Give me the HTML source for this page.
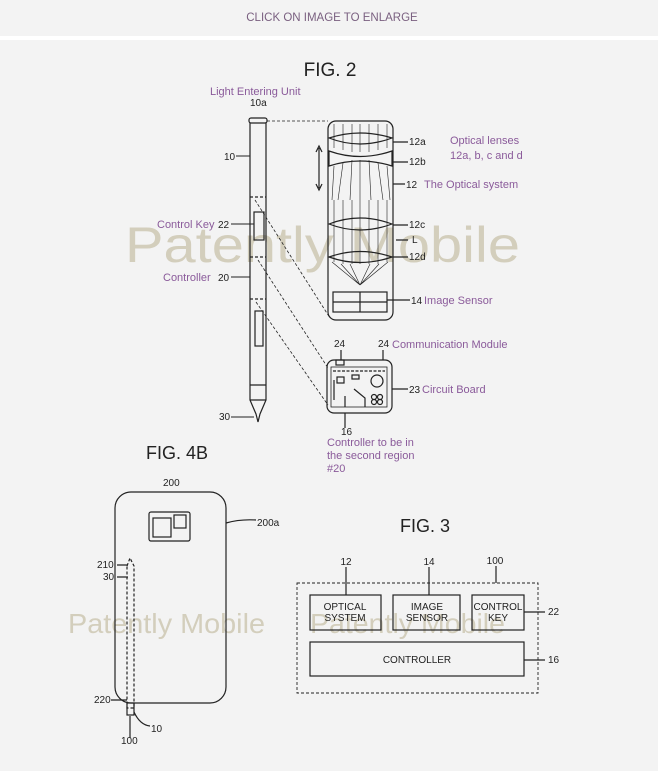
<!DOCTYPE html>
<html><head><meta charset="utf-8"><style>
html,body{margin:0;padding:0;background:#f3f3f3;}
svg{display:block}
text{font-family:"Liberation Sans",sans-serif;}
.p{fill:#8a5a9a;font-size:11px}
.b{fill:#222;font-size:10px}
.wm{fill:#b8ae8e;fill-opacity:.55}
</style></head><body>
<svg width="658" height="771" viewBox="0 0 658 771" xmlns="http://www.w3.org/2000/svg">
<rect width="658" height="771" fill="#f3f3f3"/>
<rect x="0" y="36" width="658" height="4" fill="#fff"/>
<text x="332" y="21" text-anchor="middle" font-size="11.5" fill="#7a6080">CLICK ON IMAGE TO ENLARGE</text>

<!-- watermarks -->
<text x="125" y="262" font-size="50" class="wm" textLength="395" lengthAdjust="spacingAndGlyphs">Patently Mobile</text>
<text x="68" y="633" font-size="28" class="wm" textLength="197" lengthAdjust="spacingAndGlyphs">Patently Mobile</text>
<text x="310" y="633" font-size="28" class="wm" textLength="195" lengthAdjust="spacingAndGlyphs">Patently Mobile</text>

<g stroke="#222" fill="none" stroke-width="1.2">
<!-- FIG 2 pen -->
<rect x="249" y="118" width="18" height="5" rx="2"/>
<path d="M250 123 V400 L256 414 L258 422 L260 414 L266 400 V123"/>
<path d="M250 385 H266 M250 400 H266"/>
<path d="M250 197 H266 M250 257 H266 M250 299 H266" stroke-dasharray="3 2"/>
<rect x="254" y="212" width="10" height="28"/>
<rect x="255" y="311" width="8" height="35"/>
<!-- dashed connectors -->
<g stroke-width="0.8" stroke-dasharray="3 2">
<path d="M267 121 H328"/>
<path d="M255 200 L330 318"/>
<path d="M258 260 L328 368"/>
<path d="M256 302 L328 405"/>
</g>
<!-- optical box -->
<rect x="328" y="121" width="65" height="199" rx="8"/>
<path d="M329 138 Q360 128 392 138 Q360 150 329 138Z"/>
<path d="M329 151 Q360 162 392 151 L392 166 Q360 156 329 166Z"/>
<path d="M329 224 Q360 212 392 224 Q360 236 329 224Z"/>
<path d="M329 257 Q360 246 392 257 Q360 268 329 257Z"/>
<g stroke-width="0.6">
<path d="M334 124V148M343 124V150M352 124V152M360 124V152M369 124V152M378 124V150M387 124V148"/>
<path d="M334 166L332 200M343 163L338 200M352 160L350 200M360 160V200M369 160L371 200M378 163L383 200M387 166L390 200"/>
<path d="M334 200V262M343 200V264M352 200V264M360 200V264M369 200V264M378 200V264M387 200V262"/>
<path d="M332 262L360 285M341 264L360 285M350 264L360 285M370 264L360 285M379 264L360 285M388 262L360 285"/>
</g>
<rect x="333" y="292" width="54" height="20"/>
<path d="M360 292V312M333 302H387"/>
<path d="M319 148V188M316 152L319 146L322 152M316 184L319 190L322 184"/>
<path d="M393 142H408M393 162H408M393 184H405M393 225H408M396 240H408M393 257H408M387 300H410"/>
<!-- circuit board -->
<rect x="327" y="360" width="65" height="53" rx="7"/>
<rect x="336" y="360" width="8" height="5"/>
<rect x="331" y="367" width="56" height="40" stroke-width="0.8"/>
<path d="M333 371H385" stroke-dasharray="3 1.5"/>
<rect x="337" y="377" width="7" height="6"/>
<rect x="352" y="375" width="7" height="4"/>
<circle cx="377" cy="381" r="6"/>
<path d="M354 389L365 398V407M345 396V407M334 380V400"/>
<circle cx="374" cy="397" r="2.5"/><circle cx="380" cy="397" r="2.5"/><circle cx="374" cy="402" r="2.5"/><circle cx="380" cy="402" r="2.5"/>
<path d="M392 389H408M345 413V428M383 350V360M341 350V360"/>
<!-- FIG 4B phone -->
<rect x="115" y="492" width="111" height="211" rx="16"/>
<rect x="149" y="512" width="41" height="29" rx="2"/>
<rect x="153" y="518" width="18" height="19"/>
<rect x="174" y="515" width="12" height="13"/>
<path d="M226 523Q240 519 256 520"/>
<path d="M127 566 L130 558 L134 566 V708 H127Z" stroke-dasharray="3 2"/>
<rect x="127" y="703" width="7" height="12"/>
<path d="M117 565H127M117 577H128M111 700H127M130 716V738M134 712Q140 725 150 726"/>
<!-- FIG 3 -->
<rect x="297" y="583" width="241" height="110" stroke-dasharray="3 2" stroke-width="0.9"/>
<rect x="310" y="595" width="71" height="35"/>
<rect x="393" y="595" width="67" height="35"/>
<rect x="472" y="595" width="52" height="35"/>
<rect x="310" y="642" width="214" height="34"/>
<path d="M346 567V595M429 567V595M496 566V583M524 612H545M524 660H545"/>
</g>

<text x="330" y="76" text-anchor="middle" font-size="19" fill="#222">FIG. 2</text>
<text x="210" y="95" class="p">Light Entering Unit</text>
<text x="250" y="106" class="b">10a</text>
<text x="224" y="160" class="b">10</text>
<path d="M236 156H250" stroke="#222"/>
<text x="157" y="228" class="p">Control Key</text><text x="218" y="228" class="b">22</text>
<path d="M231 224H254" stroke="#222"/>
<text x="163" y="281" class="p">Controller</text><text x="218" y="281" class="b">20</text>
<path d="M231 277H250" stroke="#222"/>
<text x="219" y="420" class="b">30</text>
<path d="M231 417H254" stroke="#222"/>
<text x="409" y="145" class="b">12a</text>
<text x="409" y="165" class="b">12b</text>
<text x="406" y="188" class="b">12</text>
<text x="424" y="188" class="p">The Optical system</text>
<text x="409" y="228" class="b">12c</text>
<text x="412" y="243" class="b">L</text>
<text x="409" y="260" class="b">12d</text>
<text x="411" y="304" class="b">14</text>
<text x="424" y="304" class="p">Image Sensor</text>
<text x="450" y="144" class="p">Optical lenses</text>
<text x="450" y="159" class="p">12a, b, c and d</text>
<text x="334" y="347" class="b">24</text>
<text x="378" y="347" class="b">24</text>
<text x="392" y="348" class="p">Communication Module</text>
<text x="409" y="393" class="b">23</text>
<text x="422" y="393" class="p">Circuit Board</text>
<text x="341" y="435" class="b">16</text>
<text x="327" y="446" class="p">Controller to be in</text>
<text x="327" y="459" class="p">the second region</text>
<text x="327" y="472" class="p">#20</text>

<text x="177" y="459" text-anchor="middle" font-size="18" fill="#222">FIG. 4B</text>
<text x="163" y="486" class="b">200</text>
<text x="257" y="526" class="b">200a</text>
<text x="97" y="568" class="b">210</text>
<text x="103" y="580" class="b">30</text>
<text x="94" y="703" class="b">220</text>
<text x="151" y="732" class="b">10</text>
<text x="121" y="744" class="b">100</text>

<text x="425" y="532" text-anchor="middle" font-size="18" fill="#222">FIG. 3</text>
<text x="346" y="565" text-anchor="middle" class="b">12</text>
<text x="429" y="565" text-anchor="middle" class="b">14</text>
<text x="495" y="564" text-anchor="middle" class="b">100</text>
<text x="548" y="615" class="b">22</text>
<text x="548" y="663" class="b">16</text>
<g font-size="10" fill="#222" text-anchor="middle">
<text x="345" y="610">OPTICAL</text><text x="345" y="621">SYSTEM</text>
<text x="427" y="610">IMAGE</text><text x="427" y="621">SENSOR</text>
<text x="498" y="610">CONTROL</text><text x="498" y="621">KEY</text>
<text x="417" y="663">CONTROLLER</text>
</g>
</svg>
</body></html>
